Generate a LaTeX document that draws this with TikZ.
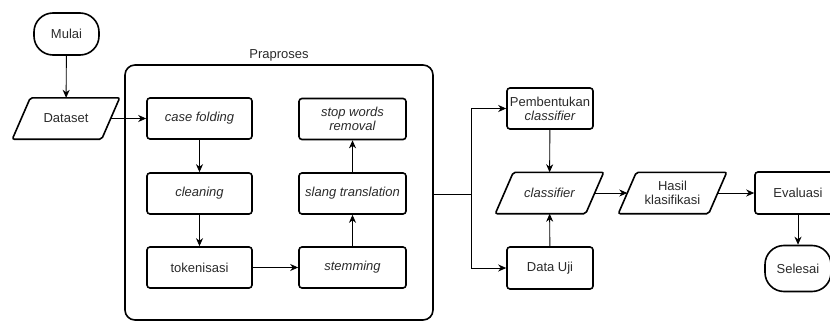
\documentclass[tikz,border=0pt]{standalone}
\usepackage{fontspec}
\setmainfont{Liberation Sans}
\usetikzlibrary{shapes.geometric,arrows.meta}
\definecolor{txt}{HTML}{2A2A2A}
\newcommand\drawpara[1]{\draw[paraline] ([xshift=9pt]#1.north west) -- ([xshift=9pt]#1.north east) -- ([xshift=-9pt]#1.south east) -- ([xshift=-9pt]#1.south west) -- cycle;}
\begin{document}
\begin{tikzpicture}[x=1pt,y=-1pt,
  font=\fontsize{13}{15}\selectfont,
  every node/.style={text=txt,inner sep=0pt,align=center},
  procbox/.style={draw=black,line width=1.6pt,rounded corners=3pt,minimum height=41pt},
  iobox/.style={minimum width=90pt,minimum height=41pt},
  paraline/.style={draw=black,line width=1.6pt,rounded corners=2pt},
  termbox/.style={draw=black,line width=1.6pt,rounded corners=19pt,minimum height=42pt},
  arr/.style={draw=black,line width=0.9pt,-{Stealth[length=8pt,width=7pt,inset=2.5pt]}},
  ln/.style={draw=black,line width=0.9pt}]
\useasboundingbox (0,0) rectangle (830,321);
% pre-processing container
\node[draw=black,line width=1.6pt,rounded corners=10pt,minimum width=308pt,minimum height=255pt] (prap) at (279,192.5) {};
\node (praplbl) at (279,55) {Praproses};
% left
\node[termbox,minimum width=65pt] (mulai) at (66.5,34) {Mulai};
\node[iobox,minimum width=89pt] (dataset) at (66,118.5) {Dataset};
\drawpara{dataset}
% inside
\node[procbox,minimum width=105pt] (case) at (199.5,118.5) {\itshape case folding};
\node[procbox,minimum width=105pt] (clean) at (199.5,193.5) {\itshape cleaning};
\node[procbox,minimum width=105pt] (token) at (199.5,267.5) {tokenisasi};
\node[procbox,minimum width=107pt] (stem) at (352.5,267.5) {\itshape stemming};
\node[procbox,minimum width=107pt] (slang) at (352.5,193.5) {\itshape slang translation};
\node[procbox,minimum width=107pt] (stop) at (352.5,119) {\itshape stop words\\[-1pt]\itshape removal};
% right
\coordinate (j) at (471,194);
\node[procbox,minimum width=86pt] (pemb) at (550,108.5) {Pembentukan\\[-1pt]\itshape classifier};
\node[iobox] (clf) at (549.5,193) {\itshape classifier};
\drawpara{clf}
\node[procbox,minimum width=86pt,minimum height=42pt] (uji) at (550,268) {Data Uji};
\node[iobox] (hasil) at (672.5,193) {Hasil\\[-1pt]klasifikasi};
\drawpara{hasil}
\node[procbox,minimum width=86pt,minimum height=42pt] (eval) at (798,193) {Evaluasi};
\node[termbox,minimum width=66pt,minimum height=46pt] (selesai) at (798,268.5) {Selesai};
% connectors
\draw[arr] (mulai) -- (dataset);
\draw[arr] (dataset.east |- case) -- (case);
\draw[arr] (case) -- (clean);
\draw[arr] (clean) -- (token);
\draw[arr] (token) -- (stem);
\draw[arr] (stem) -- (slang);
\draw[arr] (slang) -- (stop);
\draw[ln] (prap.east |- j) -- (j);
\draw[arr] (j) |- (pemb.west);
\draw[arr] (j) |- (uji.west);
\draw[arr] (pemb) -- (clf);
\draw[arr] (uji) -- (clf);
\draw[arr] (clf) -- (hasil);
\draw[arr] (hasil) -- (eval.west |- hasil);
\draw[arr] (eval) -- (selesai);
\end{tikzpicture}
\end{document}
